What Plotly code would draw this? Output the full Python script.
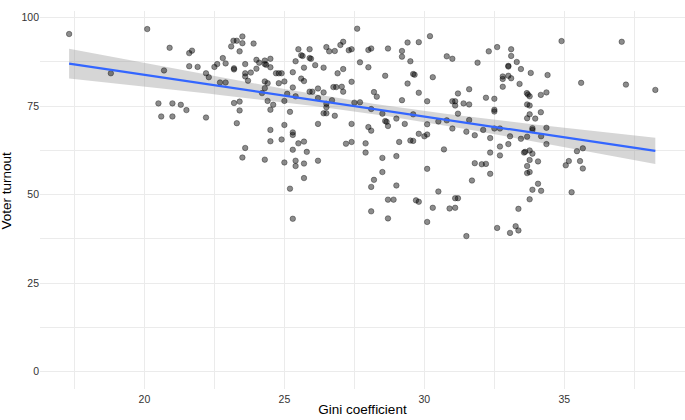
import numpy as np
import plotly.graph_objects as go

gini = [17.31,20.1,20.9,21.6,21.7,21.6,21.9,18.8,20.7,20.5,21.0,21.3,21.5,20.6,21.0,
23.5,23.18,23.3,23.5,23.1,23.4,23.9,22.8,22.9,22.6,22.5,22.2,22.3,23.2,23.2,23.6,23.6,23.6,23.8,23.7,24.0,24.0,24.1,24.3,24.3,24.35,24.5,24.5,24.3,24.4,24.3,24.2,24.7,24.8,24.9,24.8,25.0,25.3,25.4,25.6,25.65,25.5,25.9,25.9,25.95,25.7,25.6,25.7,26.1,26.4,26.5,26.6,26.8,27.0,27.1,
27.3,27.4,27.1,26.9,27.4,26.75,26.85,27.05,27.1,27.5,25.3,25.1,25.4,25.0,25.9,26.0,26.2,26.4,26.2,26.5,26.5,26.5,26.4,26.8,26.7,22.7,22.9,23.2,23.4,23.4,23.3,24.4,24.5,24.6,25.2,25.0,24.5,25.3,26.2,27.4,22.2,
25.3,23.6,23.5,24.5,24.9,24.3,25.0,25.3,25.5,25.7,25.8,25.4,25.4,25.7,26.2,25.7,25.2,25.3,27.2,27.4,
27.6,30.2,29.4,29.8,28.0,28.1,28.7,29.2,29.2,27.7,28.0,29.5,28.6,29.6,29.65,29.4,30.3,29.8,30.8,31.0,31.9,32.3,32.6,32.8,32.8,32.8,31.6,31.2,31.0,31.1,31.1,31.4,31.6,32.2,32.5,32.5,32.5,31.2,31.6,30.1,29.2,28.2,28.3,27.7,28.1,28.5,28.6,28.65,28.7,29.0,29.3,29.6,30.1,30.5,30.8,31.0,31.5,32.1,32.5,32.7,28.0,28.1,29.8,30.1,31.8,
30.0,32.35,27.9,27.9,29.1,29.5,29.6,28.5,29.0,28.5,28.2,28.1,29.0,30.1,30.7,30.5,28.7,28.9,29.7,29.8,30.3,28.1,28.7,30.1,31.1,31.2,30.9,31.1,31.5,31.8,32.05,32.2,31.7,32.35,32.35,32.7,32.7,33.0,32.6,
34.9,37.05,33.1,33.1,33.3,33.0,33.0,33.45,33.8,34.4,33.0,33.1,33.4,35.6,37.2,38.25,33.66,33.76,33.7,34.16,34.36,33.67,33.76,34.16,33.76,33.67,33.96,33.86,33.86,34.36,
33.06,33.45,33.67,34.17,34.36,33.56,33.6,33.76,33.86,33.76,34.06,33.67,33.67,33.76,34.06,33.86,34.17,33.76,33.36,33.26,33.36,33.06,35.45,35.66,35.16,35.05,35.56,35.66,35.26]

turnout = [95.4,96.8,91.5,90.0,90.7,86.3,86.1,84.3,85.1,75.8,75.8,75.4,73.9,72.1,72.1,
94.7,93.5,93.5,92.8,91.9,90.5,92.7,88.6,87.1,86.9,86.1,84.3,83.2,85.7,85.4,86.9,84.3,83.4,84.5,82.2,85.6,88.1,87.3,87.9,86.9,86.7,88.4,86.0,82.0,81.5,80.1,78.7,84.3,84.3,84.3,81.5,82.0,84.6,87.7,89.4,89.2,91.1,91.1,88.6,88.4,85.9,82.8,82.1,86.6,85.9,91.7,90.5,90.6,92.3,93.2,
90.8,91.1,85.5,84.3,81.9,80.4,80.4,80.5,79.1,76.0,80.3,78.5,77.8,76.5,79.1,79.1,80.0,78.9,77.3,75.7,74.7,73.0,73.0,72.3,76.7,81.7,81.7,75.9,76.3,73.8,70.2,76.5,74.0,75.4,73.4,69.7,68.3,67.6,70.0,70.0,71.8,
66.9,63.2,60.5,65.1,65.6,59.9,59.1,62.7,64.5,65.0,62.1,59.6,58.1,58.8,59.6,54.7,51.7,43.2,64.4,64.9,
96.9,94.8,93.0,93.1,90.9,91.3,91.3,90.6,89.0,87.4,86.0,87.7,83.6,84.1,83.9,81.4,83.2,78.8,89.1,88.4,87.3,90.5,91.7,83.4,82.7,80.5,79.8,78.6,76.4,76.4,75.2,75.8,75.5,77.4,77.1,74.0,73.5,72.9,71.1,76.4,76.7,79.0,77.7,76.1,74.2,72.9,70.8,70.6,69.4,71.5,70.0,72.7,69.9,70.7,71.0,68.7,67.8,68.3,68.7,68.7,69.1,68.1,67.2,67.0,66.8,
66.5,66.0,64.5,61.9,64.9,65.3,65.2,60.4,60.9,56.4,54.2,52.2,52.6,57.3,62.8,50.9,48.6,48.6,48.4,48.0,46.3,45.3,43.3,42.3,49.0,49.0,46.1,46.3,38.3,58.9,58.6,58.7,54.0,61.9,55.9,63.6,61.1,64.3,40.6,
93.4,93.2,91.1,89.2,87.5,86.4,86.2,85.5,84.4,83.8,83.6,82.9,81.3,81.6,81.1,79.6,78.7,77.8,78.3,78.2,78.9,75.5,75.2,73.3,72.7,71.6,71.5,68.8,68.3,68.9,
66.5,65.8,66.4,66.5,64.3,61.9,62.1,62.5,61.6,59.8,59.4,58.1,56.1,56.4,53.1,51.4,51.1,48.7,46.0,41.1,39.9,39.2,62.3,63.1,59.5,58.3,59.5,57.4,50.7]

x_ticks = [20, 25, 30, 35]
y_ticks = [0, 25, 50, 75, 100]

x = np.array(gini)
y = np.array(turnout)
n = len(x)
b1, b0 = np.polyfit(x, y, 1)
res = y - (b0 + b1 * x)
s = np.sqrt(np.sum(res ** 2) / (n - 2))
xm = x.mean()
sxx = np.sum((x - xm) ** 2)
xs = np.linspace(x.min(), x.max(), 80)
fit = b0 + b1 * xs
se = s * np.sqrt(1 / n + (xs - xm) ** 2 / sxx)
t = 1.969
lo = fit - t * se
hi = fit + t * se

fig = go.Figure()
fig.add_trace(go.Scatter(x=np.concatenate([xs, xs[::-1]]), y=np.concatenate([hi, lo[::-1]]),
                         fill="toself", fillcolor="rgba(153,153,153,0.4)", line=dict(width=0),
                         mode="lines", hoverinfo="skip", showlegend=False))
fig.add_trace(go.Scatter(x=x, y=y, mode="markers", showlegend=False,
                         marker=dict(size=5.5, color="rgba(0,0,0,0.45)",
                                     line=dict(color="rgba(0,0,0,0.35)", width=1))))
fig.add_trace(go.Scatter(x=xs, y=fit, mode="lines", showlegend=False,
                         line=dict(color="#3366FF", width=2.2)))

grid = "#EBEBEB"
fig.update_layout(
    width=685, height=420,
    margin=dict(l=40, r=0, t=11, b=31),
    paper_bgcolor="white", plot_bgcolor="white",
    font=dict(family="Liberation Sans, Arial, sans-serif", color="black"),
    xaxis=dict(range=[16.27, 39.31], tickvals=x_ticks, showgrid=True, gridcolor=grid, gridwidth=1,
               zeroline=False, showline=False, ticks="", ticklabelstandoff=2,
               tickfont=dict(size=10.5, color="#333333"),
               minor=dict(dtick=2.5, tick0=0, showgrid=True, gridcolor=grid, gridwidth=0.5),
               title=dict(text="Gini coefficient", font=dict(size=13.5), standoff=1)),
    yaxis=dict(range=[-4.9, 101.9], tickvals=y_ticks, showgrid=True, gridcolor=grid, gridwidth=1,
               zeroline=False, showline=False, ticks="",
               tickfont=dict(size=10.5, color="#333333"),
               minor=dict(dtick=12.5, tick0=0, showgrid=True, gridcolor=grid, gridwidth=0.5)),
    annotations=[dict(text="Voter turnout", xref="paper", yref="paper", x=0, y=0.525,
                      xanchor="center", yanchor="middle", xshift=-33, textangle=-90,
                      showarrow=False, font=dict(size=13.5, color="black"))],
)
fig.write_html("out.html", post_script="document.body.style.margin='0';",
               config={"displayModeBar": False})
